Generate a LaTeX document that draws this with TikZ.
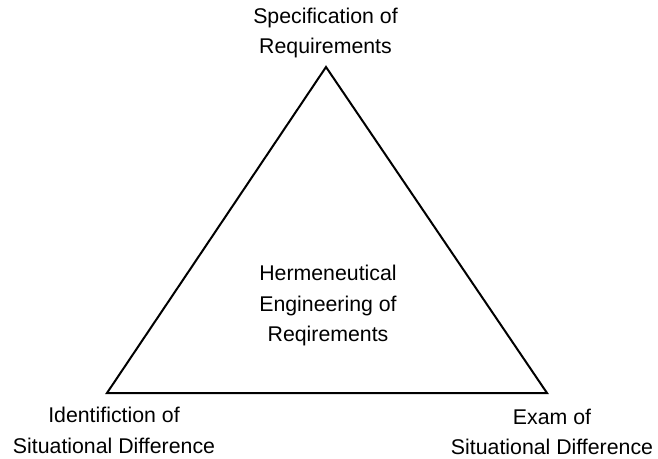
\documentclass[tikz,border=0pt]{standalone}
\usepackage{fontspec}
\setmainfont{Liberation Sans}
\usepackage{tikz}

\begin{document}
\begin{tikzpicture}[x=1pt, y=1pt,
    label text/.style={align=center, inner sep=0pt,
      font=\fontsize{21.3}{30.5}\selectfont}]
          \useasboundingbox (0,0) rectangle (658,458);

          % Corners of the triangle
          \coordinate (apex) at (326,391);
          \coordinate (leftcorner) at (107,65);
          \coordinate (rightcorner) at (547,65);
          \draw[line width=2pt] (apex) -- (leftcorner) -- (rightcorner) -- cycle;

          % Corner labels
          \node[label text] (spec) at (325.5,425) {Specification of\\Requirements};
          \node[label text] (ident) at (114,27.6) {Identifiction of\\Situational Difference};
          \node[label text] (exam) at (552,26) {Exam of\\Situational Difference};

          % Centre label
          \node[label text] (herm) at (328,152.4) {Hermeneutical\\Engineering of\\Reqirements};
\end{tikzpicture}
\end{document}
